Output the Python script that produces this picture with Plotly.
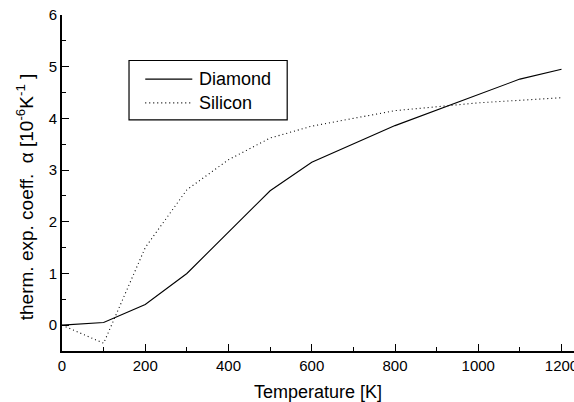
import plotly.graph_objects as go

# Data
diamond_T = [0, 100, 200, 300, 500, 600, 800, 1100, 1200]
diamond_alpha = [0.0, 0.05, 0.4, 1.0, 2.6, 3.15, 3.86, 4.76, 4.95]
silicon_T = [0, 100, 200, 300, 400, 500, 600, 800, 1000, 1200]
silicon_alpha = [0.0, -0.35, 1.5, 2.62, 3.2, 3.62, 3.85, 4.15, 4.3, 4.4]
x_ticks = [0, 200, 400, 600, 800, 1000, 1200]
y_ticks = [0, 1, 2, 3, 4, 5, 6]
series_names = ["Diamond", "Silicon"]

FONT = "Liberation Sans, Arial, sans-serif"

fig = go.Figure()
fig.add_trace(go.Scatter(x=diamond_T, y=diamond_alpha, mode="lines", name=series_names[0],
                         line=dict(color="black", width=1.1), showlegend=False))
fig.add_trace(go.Scatter(x=silicon_T, y=silicon_alpha, mode="lines", name=series_names[1],
                         line=dict(color="black", width=1.1, dash="1px,3px"), showlegend=False))

# manual legend box (data coordinates)
fig.add_shape(type="rect", xref="x", yref="y", x0=161, x1=541, y0=3.97, y1=5.12,
              line=dict(color="black", width=1.2), fillcolor="white", layer="above")
fig.add_shape(type="line", xref="x", yref="y", x0=200, x1=313, y0=4.76, y1=4.76,
              line=dict(color="black", width=1.1), layer="above")
fig.add_shape(type="line", xref="x", yref="y", x0=200, x1=313, y0=4.30, y1=4.30,
              line=dict(color="black", width=1.1, dash="1px,3px"), layer="above")
for name, yy in zip(series_names, [4.76, 4.30]):
    fig.add_annotation(x=325, y=yy, xref="x", yref="y", text=name, showarrow=False,
                       xanchor="left", yanchor="middle",
                       font=dict(family=FONT, size=18, color="black"))

# y-axis title
fig.add_annotation(x=-0.072, y=0.458, xref="paper", yref="paper",
                   text="therm. exp. coeff.  α [10<sup>-6</sup>K<sup>-1</sup> ]",
                   textangle=-90, showarrow=False, xanchor="center", yanchor="middle",
                   font=dict(family=FONT, size=19, color="black"))

fig.update_layout(
    width=574, height=402,
    margin=dict(l=62, r=0, t=15, b=51),
    paper_bgcolor="white", plot_bgcolor="white",
    font=dict(family=FONT, color="black"),
    showlegend=False,
)
fig.update_xaxes(
    range=[0, 1230], tickvals=x_ticks, ticks="inside", ticklen=7, tickwidth=1.3,
    tickcolor="black", showline=True, linecolor="black", linewidth=1.6,
    showgrid=False, zeroline=False, tickfont=dict(size=15, family=FONT),
    ticklabeloverflow="allow", automargin=False,
    minor=dict(ticks="inside", ticklen=4, tickwidth=1.2, tickcolor="black", dtick=100, tick0=0, showgrid=False),
    title=dict(text="Temperature [K]", font=dict(size=18, family=FONT), standoff=14),
)
fig.update_yaxes(
    range=[-0.5, 6], tickvals=y_ticks, ticks="inside", ticklen=7, tickwidth=1.3,
    tickcolor="black", showline=True, linecolor="black", linewidth=1.6,
    showgrid=False, zeroline=False, tickfont=dict(size=15, family=FONT),
    automargin=False,
    minor=dict(ticks="inside", ticklen=4, tickwidth=1.2, tickcolor="black", dtick=0.5, tick0=0, showgrid=False),
)

fig.write_html("out.html", post_script="document.body.style.margin='0';",
               config={"displayModeBar": False})
